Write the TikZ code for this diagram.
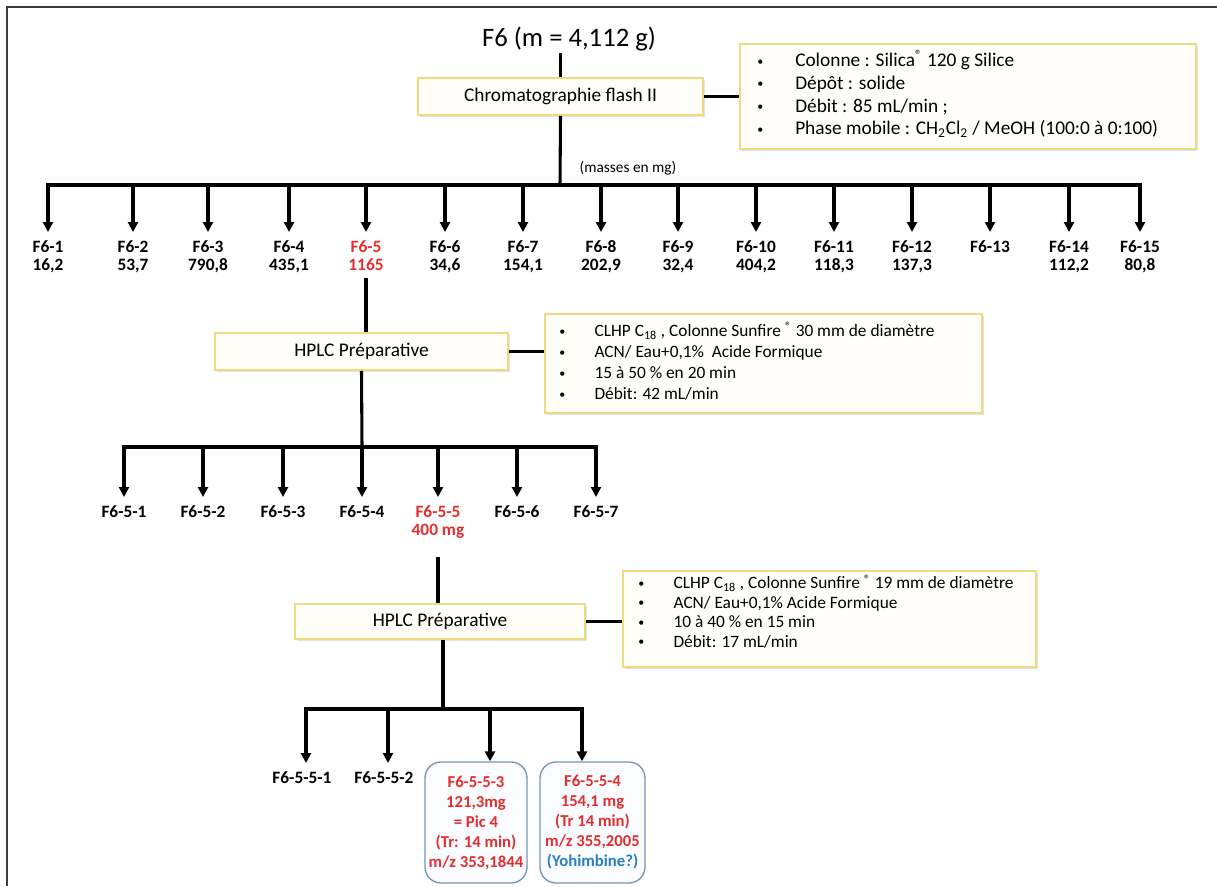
\documentclass[tikz,border=0pt]{standalone}
\usepackage{fontspec}
\setmainfont{Carlito}
\usetikzlibrary{arrows.meta,fit,shadows}
\definecolor{boxline}{RGB}{238,218,130}
\definecolor{boxfill}{RGB}{255,254,247}
\definecolor{redtxt}{RGB}{228,45,45}
\definecolor{bluetxt}{RGB}{40,125,195}
\definecolor{rboxline}{RGB}{115,150,180}
\definecolor{rboxfill}{RGB}{250,252,255}
\definecolor{framec}{RGB}{60,60,60}
\newcommand{\bul}{\raisebox{1.2pt}{\fontsize{9}{9}\selectfont\textbullet}}
\begin{document}
\begin{tikzpicture}[x=0.75pt,y=-0.75pt,
  framel/.style={draw=framec,line width=1.4pt},
  conn/.style={line width=2.3pt},
  barl/.style={line width=2.8pt,line cap=rect},
  arr/.style={line width=2.3pt,-{Triangle[length=7.5pt,width=7.5pt]}},
  shad/.style={drop shadow={shadow xshift=1.3pt,shadow yshift=-1.3pt,opacity=.25,fill=black!45}},
  procbox/.style={draw=boxline,line width=1.2pt,fill=boxfill,inner sep=0pt,shad,
    font=\fontsize{14.5}{17}\selectfont},
  infobox/.style={draw=boxline,line width=1.2pt,fill=boxfill,inner sep=0pt,shad},
  infotext/.style={anchor=west,inner sep=0pt},
  frac/.style={font=\fontsize{13}{13.5}\selectfont\bfseries,align=center,anchor=north,inner xsep=1pt,inner ysep=6pt},
  fracred/.style={frac,text=redtxt},
  rbox/.style={draw=rboxline,line width=1pt,rounded corners=12pt,fill=rboxfill,inner sep=0pt,
    font=\fontsize{12.5}{15}\selectfont\bfseries,align=center,text=redtxt}
]
\useasboundingbox (0,0) rectangle (1217,886);
\draw[framel] (7,886) -- (7,7) -- (1217,7);

% ---------- level 0
\node[font=\fontsize{20}{24}\selectfont,inner sep=1pt] (title) at (569,39) {F6 (m = 4,112 g)};
\node[procbox,minimum width={285*0.75pt},minimum height={37*0.75pt}] (chrom) at (560.5,96.5) {Chromatographie flash II};
\node[infobox,fit={(740,44) (1196,149)}] (info1) {};
\node[infotext,font=\fontsize{14.5}{17}\selectfont] (info1t) at (757,96)
 {\begin{tabular}{@{}l@{\hspace{24pt}}l@{}}
  \bul & Colonne : Silica\textsuperscript{®} 120 g Silice\\
  \bul & Dépôt : solide\\
  \bul & Débit : 85 mL/min ;\\
  \bul & Phase mobile : CH\textsubscript{2}Cl\textsubscript{2} / MeOH (100:0 à 0:100)
 \end{tabular}};
\node[font=\fontsize{11.5}{13}\selectfont,inner sep=1pt] (masses) at (628,168) {(masses en mg)};

\draw[conn] (chrom.north |- title.south) -- (chrom.north);
\draw[conn] (chrom.east) -- (chrom.east -| info1.west);
\coordinate (bar1) at (560,185);
\draw[conn] (chrom.south) -- (bar1);

% ---------- level 1 fractions
\node[frac] (f1) at (48,232) {F6-1\\16,2};
\node[frac] (f2) at (133,232) {F6-2\\53,7};
\node[frac] (f3) at (208,232) {F6-3\\790,8};
\node[frac] (f4) at (289,232) {F6-4\\435,1};
\node[fracred] (f5) at (366,232) {F6-5\\1165};
\node[frac] (f6) at (445,232) {F6-6\\34,6};
\node[frac] (f7) at (523,232) {F6-7\\154,1};
\node[frac] (f8) at (601,232) {F6-8\\202,9};
\node[frac] (f9) at (678,232) {F6-9\\32,4};
\node[frac] (f10) at (756,232) {F6-10\\404,2};
\node[frac] (f11) at (834,232) {F6-11\\118,3};
\node[frac] (f12) at (912,232) {F6-12\\137,3};
\node[frac] (f13) at (990,232) {F6-13\\\phantom{0}};
\node[frac] (f14) at (1069,232) {F6-14\\112,2};
\node[frac] (f15) at (1140,232) {F6-15\\80,8};

\draw[barl] (f1 |- bar1) -- (f15 |- bar1);
\foreach \n in {f1,f2,f3,f4,f5,f6,f7,f8,f9,f10,f11,f12,f13,f14,f15}
  \draw[arr] (\n |- bar1) -- (\n.north);

% ---------- HPLC 1
\node[procbox,minimum width={293*0.75pt},minimum height={37*0.75pt}] (hplc1) at (361.5,351.5) {HPLC Préparative};
\node[infobox,fit={(545,314) (982,413)}] (info2) {};
\node[infotext,font=\fontsize{13}{15.75}\selectfont] (info2t) at (559,364)
 {\begin{tabular}{@{}l@{\hspace{22pt}}l@{}}
  \bul & CLHP C\textsubscript{18} , Colonne Sunfire \textsuperscript{®} 30 mm de diamètre\\
  \bul & ACN/ Eau+0,1\%\ \ Acide Formique\\
  \bul & 15 à 50 \% en 20 min\\
  \bul & Débit: 42 mL/min
 \end{tabular}};
\draw[conn] (f5.south) -- (f5.south |- hplc1.north);
\draw[conn] (hplc1.east) -- (hplc1.east -| info2.west);
\coordinate (bar2) at (362,447);
\draw[conn] (hplc1.south) -- (bar2);

% ---------- level 2 fractions
\node[frac] (g1) at (124,497) {F6-5-1};
\node[frac] (g2) at (203,497) {F6-5-2};
\node[frac] (g3) at (283,497) {F6-5-3};
\node[frac] (g4) at (362,497) {F6-5-4};
\node[fracred] (g5) at (438,497) {F6-5-5\\400 mg};
\node[frac] (g6) at (517,497) {F6-5-6};
\node[frac] (g7) at (596,497) {F6-5-7};
\draw[barl] (g1 |- bar2) -- (g7 |- bar2);
\foreach \n in {g1,g2,g3,g4,g5,g6,g7}
  \draw[arr] (\n |- bar2) -- (\n.north);

% ---------- HPLC 2
\node[procbox,minimum width={290*0.75pt},minimum height={35*0.75pt}] (hplc2) at (440,621.5) {HPLC Préparative};
\node[infobox,fit={(623,571) (1036,667)}] (info3) {};
\node[infotext,font=\fontsize{13}{14.6}\selectfont] (info3t) at (638,614)
 {\begin{tabular}{@{}l@{\hspace{22pt}}l@{}}
  \bul & CLHP C\textsubscript{18} , Colonne Sunfire \textsuperscript{®} 19 mm de diamètre\\
  \bul & ACN/ Eau+0,1\% Acide Formique\\
  \bul & 10 à 40 \% en 15 min\\
  \bul & Débit: 17 mL/min
 \end{tabular}};
\draw[conn,shorten <=8pt] (g5.south) -- (g5.south |- hplc2.north);
\draw[conn] (hplc2.east) -- (hplc2.east -| info3.west);
\coordinate (bar3) at (443,709);
\draw[conn] (hplc2.south -| bar3) -- (bar3);

% ---------- level 3 fractions
\node[frac] (h1) at (302,763) {F6-5-5-1};
\node[frac] (h2) at (384,763) {F6-5-5-2};
\node[rbox,minimum width={102*0.75pt},minimum height={121*0.75pt}] (h3) at (476,822.5)
  {F6-5-5-3\\121,3mg\\= Pic 4\\(Tr: 14 min)\\m/z 353,1844};
\node[rbox,minimum width={105*0.75pt},minimum height={121*0.75pt}] (h4) at (592.5,822.5)
  {F6-5-5-4\\154,1 mg\\(Tr 14 min)\\m/z 355,2005\\{\color{bluetxt}(Yohimbine?)}};
\coordinate (a1) at (306,709);
\coordinate (a2) at (388,709);
\coordinate (a3) at (490,709);
\coordinate (a4) at (582,709);
\draw[barl] (a1) -- (a4);
\draw[arr] (a1) -- (a1 |- h1.north);
\draw[arr] (a2) -- (a2 |- h2.north);
\draw[arr] (a3) -- (a3 |- h3.north);
\draw[arr] (a4) -- (a4 |- h4.north);
\end{tikzpicture}
\end{document}
